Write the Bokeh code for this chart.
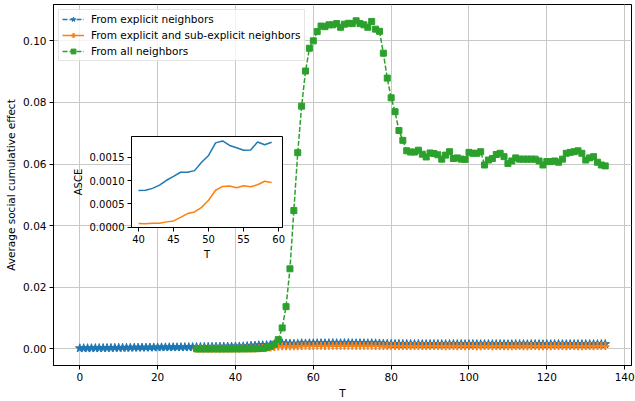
from bokeh.plotting import figure
from bokeh.models import Range1d, FixedTicker, PrintfTickFormatter, Legend, LegendItem
from bokeh.embed import file_html
from bokeh.resources import INLINE

FONT = "DejaVu Sans"
BLUE, ORANGE, GREEN = "#1f77b4", "#ff7f0e", "#2ca02c"

# Average social cumulative effect per time step T
t_explicit = list(range(0, 136))
explicit = [
    0.00020, 0.00021, 0.00023, 0.00024, 0.00026, 0.00027, 0.00028, 0.00030, 0.00031, 0.00033,
    0.00034, 0.00035, 0.00036, 0.00038, 0.00040, 0.00041, 0.00042, 0.00043, 0.00045, 0.00046,
    0.00048, 0.00049, 0.00050, 0.00052, 0.00053, 0.00054, 0.00056, 0.00057, 0.00059, 0.00060,
    0.00062, 0.00063, 0.00064, 0.00066, 0.00068, 0.00069, 0.00071, 0.00073, 0.00075, 0.00077,
    0.000785, 0.000792, 0.000833, 0.000903, 0.001007, 0.00109, 0.00118, 0.00118, 0.001215, 0.001396,
    0.001542, 0.001813, 0.001854, 0.001757, 0.001708, 0.001653, 0.00166, 0.001833, 0.001771, 0.001826,
    0.00181, 0.00184, 0.00186, 0.00183, 0.00185, 0.00188, 0.00186, 0.00184, 0.00187, 0.00189,
    0.00185, 0.00183, 0.00186, 0.00184, 0.00182, 0.00185, 0.00180, 0.00176, 0.00170, 0.00165,
    0.00162, 0.00160, 0.00161, 0.00158, 0.00160, 0.00159, 0.00157, 0.00160, 0.00158, 0.00156,
    0.00158, 0.00157, 0.00159, 0.00156, 0.00155, 0.00157, 0.00158, 0.00155, 0.00156, 0.00154,
    0.00156, 0.00157, 0.00155, 0.00153, 0.00155, 0.00156, 0.00154, 0.00155, 0.00157, 0.00155,
    0.00153, 0.00154, 0.00156, 0.00155, 0.00154, 0.00153, 0.00155, 0.00156, 0.00154, 0.00153,
    0.00155, 0.00154, 0.00156, 0.00157, 0.00155, 0.00154, 0.00156, 0.00155, 0.00153, 0.00154,
    0.00156, 0.00155, 0.00154, 0.00155, 0.00156, 0.00155,
]

t_sub = list(range(30, 136))
sub_explicit = [
    0.00003, 0.00004, 0.00004, 0.00005, 0.00005, 0.00006, 0.00006, 0.00006, 0.00007, 0.00007,
    0.000076, 0.00007, 0.000083, 0.000083, 0.000111, 0.000132, 0.000208, 0.00029, 0.000326, 0.000424,
    0.000576, 0.000792, 0.000875, 0.000882, 0.000847, 0.000889, 0.000868, 0.00091, 0.000986, 0.000958,
    0.00096, 0.00098, 0.00099, 0.00097, 0.00098, 0.00100, 0.00099, 0.00098, 0.00100, 0.00101,
    0.00099, 0.00098, 0.00100, 0.00099, 0.00098, 0.00099, 0.00097, 0.00096, 0.00095, 0.00094,
    0.00093, 0.00092, 0.00093, 0.00091, 0.00092, 0.00091, 0.00090, 0.00092, 0.00091, 0.00090,
    0.00091, 0.00090, 0.00092, 0.00090, 0.00089, 0.00090, 0.00091, 0.00089, 0.00090, 0.00088,
    0.00090, 0.00091, 0.00089, 0.00088, 0.00090, 0.00091, 0.00089, 0.00090, 0.00091, 0.00089,
    0.00088, 0.00089, 0.00091, 0.00090, 0.00089, 0.00088, 0.00090, 0.00091, 0.00089, 0.00088,
    0.00090, 0.00089, 0.00091, 0.00092, 0.00090, 0.00089, 0.00091, 0.00090, 0.00088, 0.00089,
    0.00091, 0.00090, 0.00089, 0.00090, 0.00091, 0.00090,
]

t_all = list(range(30, 136))
all_neighbors = [
    0.00000, -0.00002, 0.00001, -0.00001, 0.00000, 0.00002, -0.00001, 0.00000, 0.00001, 0.00000,
    0.00002, 0.00001, 0.00003, 0.00002, 0.00004, 0.00006, 0.00010, 0.00016, 0.00040, 0.00080,
    0.00150, 0.00300, 0.00680, 0.01370, 0.02600, 0.04490, 0.06370, 0.07880, 0.09020, 0.09760,
    0.10000, 0.10300, 0.10480, 0.10460, 0.10520, 0.10520, 0.10560, 0.10440, 0.10540, 0.10570,
    0.10560, 0.10650, 0.10560, 0.10520, 0.10440, 0.10630, 0.10380, 0.10310, 0.09600, 0.08790,
    0.08150, 0.07700, 0.07090, 0.06770, 0.06430, 0.06390, 0.06390, 0.06450, 0.06320, 0.06230,
    0.06360, 0.06340, 0.06300, 0.06160, 0.06290, 0.06400, 0.06180, 0.06200, 0.06160, 0.06150,
    0.06380, 0.06350, 0.06350, 0.06400, 0.05970, 0.06130, 0.06180, 0.06310, 0.06350, 0.06240,
    0.06020, 0.06100, 0.06200, 0.06160, 0.06160, 0.06160, 0.06160, 0.06160, 0.06100, 0.05970,
    0.06080, 0.06080, 0.06100, 0.06060, 0.06160, 0.06350, 0.06380, 0.06400, 0.06430, 0.06350,
    0.06130, 0.06200, 0.06240, 0.06060, 0.05970, 0.05940,
]

# Inset: close-up of the two smaller series over T = 40..59
inset_t = list(range(40, 60))
inset_explicit = explicit[40:60]
inset_sub = sub_explicit[10:30]

x_ticks = [0, 20, 40, 60, 80, 100, 120, 140]
y_ticks = [0.0, 0.02, 0.04, 0.06, 0.08, 0.10]
inset_x_ticks = [40, 45, 50, 55, 60]
inset_y_ticks = [0.0, 0.0005, 0.0010, 0.0015]


def style_axes(fig, size):
    for ax in list(fig.xaxis) + list(fig.yaxis):
        ax.major_label_text_font = FONT
        ax.major_label_text_font_size = size
        ax.major_label_text_color = "black"
        ax.axis_label_text_font = FONT
        ax.axis_label_text_font_size = size
        ax.axis_label_text_font_style = "normal"
        ax.axis_label_text_color = "black"
        ax.major_tick_in = 0
        ax.major_tick_out = 4
        ax.minor_tick_in = 0
        ax.minor_tick_out = 0
        ax.major_tick_line_color = "black"
        ax.axis_line_color = "black"
        ax.major_label_standoff = 3
        ax.axis_label_standoff = 3


p = figure(
    width=635, height=401,
    x_range=Range1d(-6.75, 141.75), y_range=Range1d(-0.0054, 0.1118),
    output_backend="svg", toolbar_location=None,
    min_border_left=53, min_border_right=4, min_border_top=4, min_border_bottom=34,
    x_axis_label="T", y_axis_label="Average social cumulative effect",
)
p.outline_line_color = "black"
p.outline_line_width = 1
p.grid.grid_line_color = "#c8c8c8"
p.grid.grid_line_width = 1
p.xaxis.ticker = FixedTicker(ticks=x_ticks)
p.yaxis.ticker = FixedTicker(ticks=y_ticks)
p.yaxis.formatter = PrintfTickFormatter(format="%.2f")
style_axes(p, "10.5px")

lb = p.line(t_explicit, explicit, color=BLUE, line_width=1.5, line_dash="5 2")
sb = p.scatter(t_explicit, explicit, marker="star", size=9, color=BLUE)
lo = p.line(t_sub, sub_explicit, color=ORANGE, line_width=1.5)
so = p.scatter(t_sub, sub_explicit, marker="cross", size=8, line_color=ORANGE, line_width=2)
lg = p.line(t_all, all_neighbors, color=GREEN, line_width=1.5, line_dash="5 2")
sg = p.scatter(t_all, all_neighbors, marker="square", size=6, color=GREEN)

legend = Legend(
    items=[
        LegendItem(label="From explicit neighbors", renderers=[lb, sb]),
        LegendItem(label="From explicit and sub-explicit neighbors", renderers=[lo, so]),
        LegendItem(label="From all neighbors", renderers=[lg, sg]),
    ],
    location="top_left",
    margin=5, padding=3, spacing=4,
    glyph_width=22, glyph_height=12, label_height=12, label_standoff=7,
    label_text_font=FONT, label_text_font_size="10.5px", label_text_color="black",
    border_line_color="#cccccc", border_line_width=1,
    background_fill_color="white", background_fill_alpha=0.8,
)
p.add_layout(legend)

# Inset figure, placed over the main plot area
inset = figure(
    width=232, height=132,
    x_range=Range1d(39.0, 60.55), y_range=Range1d(-0.00001, 0.00195),
    output_backend="svg", toolbar_location=None,
    min_border_left=71, min_border_right=10, min_border_top=6, min_border_bottom=32,
    x_axis_label="T", y_axis_label="ASCE",
    styles={"position": "absolute", "left": "60px", "top": "130px"},
)
inset.border_fill_alpha = 0
inset.background_fill_color = "white"
inset.outline_line_color = "black"
inset.outline_line_width = 1
inset.grid.visible = False
inset.xaxis.ticker = FixedTicker(ticks=inset_x_ticks)
inset.yaxis.ticker = FixedTicker(ticks=inset_y_ticks)
inset.yaxis.formatter = PrintfTickFormatter(format="%.4f")
style_axes(inset, "10px")
inset.line(inset_t, inset_explicit, color=BLUE, line_width=1.5)
inset.line(inset_t, inset_sub, color=ORANGE, line_width=1.5)

open("out.html", "w").write(file_html([p, inset], INLINE))
